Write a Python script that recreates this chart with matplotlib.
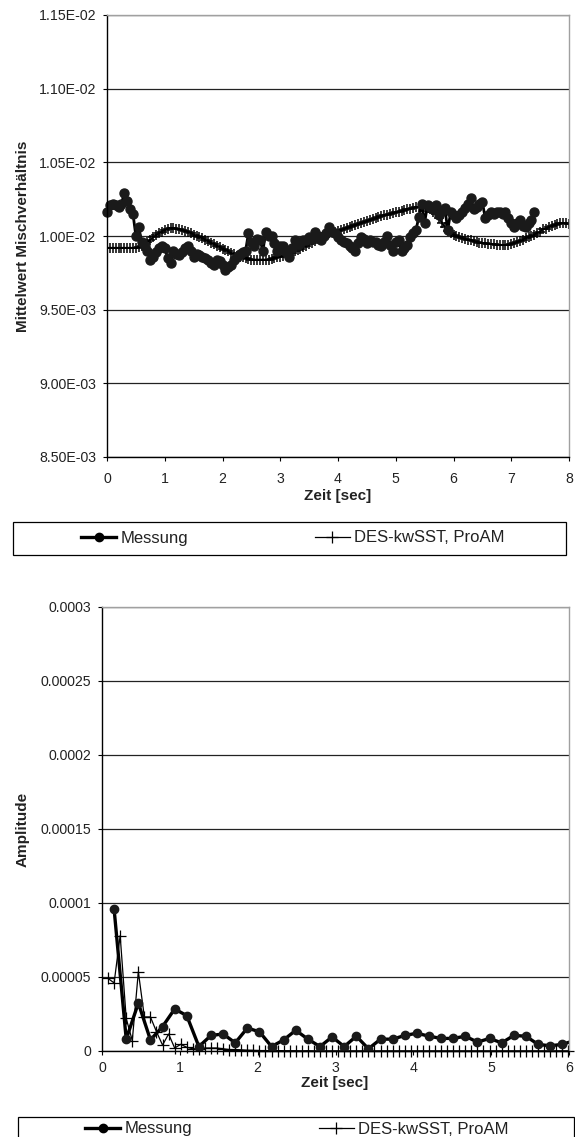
import numpy as np
import matplotlib
matplotlib.use("Agg")
import matplotlib.pyplot as plt
from matplotlib.patches import Rectangle
from matplotlib.lines import Line2D

plt.rcParams['font.family'] = ['Liberation Sans', 'DejaVu Sans']
plt.rcParams['text.color'] = '#222222'

# Mittelwert Mischverhaeltnis (x 1e-3), Zeitschritt 0.05 s
dt = 0.05
messung_mw = [
    10.16, 10.21, 10.22, 10.21, 10.20, 10.22, 10.29, 10.24, 10.18, 10.15,
    10.00, 10.06, 9.96, 9.93, 9.90, 9.84, 9.86, 9.89, 9.92, 9.93,
    9.92, 9.85, 9.82, 9.90, 9.88, 9.87, 9.89, 9.92, 9.93, 9.90,
    9.86, 9.88, 9.87, 9.86, 9.85, 9.84, 9.82, 9.80, 9.84, 9.83,
    9.80, 9.77, 9.79, 9.80, 9.84, 9.86, 9.88, 9.89, 9.90, 10.02,
    9.96, 9.93, 9.98, 9.97, 9.90, 10.03, 10.00, 10.00, 9.95, 9.90,
    9.93, 9.93, 9.89, 9.86, 9.92, 9.97, 9.94, 9.95, 9.97, 9.97,
    9.99, 9.98, 10.03, 10.00, 9.97, 10.00, 10.02, 10.06, 10.03, 10.02,
    9.99, 9.97, 9.96, 9.95, 9.93, 9.92, 9.90, 9.95, 9.99, 9.98,
    9.95, 9.97, 9.96, 9.96, 9.94, 9.93, 9.96, 10.00, 9.94, 9.90,
    9.96, 9.97, 9.90, 9.92, 9.94, 9.99, 10.02, 10.04, 10.13, 10.22,
    10.09, 10.21, 10.20, 10.18, 10.21, 10.14, 10.17, 10.19, 10.04, 10.16,
    10.14, 10.12, 10.14, 10.16, 10.19, 10.22, 10.26, 10.18, 10.20, 10.22,
    10.23, 10.12, 10.14, 10.16, 10.15, 10.16, 10.16, 10.15, 10.16, 10.12,
    10.09, 10.06, 10.09, 10.11, 10.07, 10.06, 10.09, 10.11, 10.16,
]
des_mw = [
    9.92, 9.92, 9.92, 9.92, 9.92, 9.92, 9.92, 9.92, 9.92, 9.92,
    9.92, 9.925, 9.93, 9.945, 9.96, 9.975, 9.99, 10.005, 10.02, 10.03,
    10.04, 10.05, 10.055, 10.055, 10.05, 10.045, 10.04, 10.035, 10.03, 10.02,
    10.01, 10.00, 9.995, 9.985, 9.975, 9.965, 9.955, 9.945, 9.935, 9.925,
    9.915, 9.905, 9.895, 9.885, 9.875, 9.865, 9.86, 9.855, 9.85, 9.845,
    9.84, 9.84, 9.84, 9.84, 9.84, 9.84, 9.84, 9.845, 9.85, 9.855,
    9.86, 9.865, 9.87, 9.88, 9.885, 9.895, 9.905, 9.915, 9.925, 9.935,
    9.945, 9.955, 9.965, 9.98, 9.99, 10.00, 10.01, 10.02, 10.025, 10.03,
    10.035, 10.04, 10.05, 10.055, 10.06, 10.07, 10.075, 10.08, 10.09, 10.095,
    10.10, 10.11, 10.115, 10.12, 10.13, 10.135, 10.14, 10.145, 10.15, 10.155,
    10.16, 10.165, 10.17, 10.175, 10.18, 10.185, 10.19, 10.195, 10.20, 10.20,
    10.195, 10.19, 10.18, 10.165, 10.15, 10.12, 10.09, 10.06, 10.035, 10.02,
    10.01, 10.00, 9.99, 9.985, 9.98, 9.975, 9.97, 9.965, 9.96, 9.955,
    9.95, 9.95, 9.945, 9.945, 9.945, 9.94, 9.94, 9.94, 9.94, 9.94,
    9.945, 9.95, 9.96, 9.965, 9.975, 9.985, 9.99, 10.00, 10.01, 10.02,
    10.03, 10.045, 10.05, 10.06, 10.07, 10.075, 10.08, 10.085, 10.085, 10.085,
    10.08,
]

# Amplitudenspektrum (x 1e-5)
df_mess = 0.1556
df_des = 0.0778
messung_amp = [
    9.58, 0.80, 3.24, 0.75, 1.65, 2.84, 2.39, 0.30, 1.05, 1.15,
    0.55, 1.55, 1.30, 0.30, 0.75, 1.40, 0.80, 0.30, 0.95, 0.30,
    1.00, 0.15, 0.80, 0.80, 1.05, 1.20, 1.00, 0.85, 0.85, 1.00,
    0.60, 0.85, 0.55, 1.05, 1.00, 0.45, 0.35, 0.45, 0.70,
]
des_amp = [
    4.90, 4.60, 7.80, 2.20, 0.70, 5.35, 2.30, 2.30, 1.30, 0.40,
    1.15, 0.20, 0.45, 0.25, 0.15, 0.15, 0.20, 0.20, 0.20, 0.15,
    0.10, 0.10, 0.08, 0.05, 0.04, 0.03, 0.03, 0.02, 0.03, 0.02,
    0.02, 0.02, 0.01, 0.02, 0.01, 0.01, 0.01, 0.01, 0.01, 0.01,
    0.01, 0.01, 0.01, 0.01, 0.01, 0.01, 0.01, 0.01, 0.01, 0.01,
    0.01, 0.01, 0.01, 0.01, 0.01, 0.01, 0.01, 0.01, 0.01, 0.01,
    0.01, 0.01, 0.01, 0.01, 0.01, 0.01, 0.01, 0.01, 0.01, 0.01,
    0.01, 0.01, 0.01, 0.01, 0.01, 0.01, 0.01,
]

mw_ticks = [8.5e-3, 9.0e-3, 9.5e-3, 1.0e-2, 1.05e-2, 1.1e-2, 1.15e-2]
amp_ticks = [0, 0.00005, 0.0001, 0.00015, 0.0002, 0.00025, 0.0003]
amp_ticklabels = ['0', '0.00005', '0.0001', '0.00015', '0.0002', '0.00025', '0.0003']
labels = ['Messung', 'DES-kwSST, ProAM']

W, H = 575, 1137
fig = plt.figure(figsize=(W / 100, H / 100), dpi=100)


def px_box(x0, y0, x1, y1):
    # Pixelbox (Ursprung oben links) -> Figurenbruchteile [l, b, w, h]
    return [x0 / W, 1 - y1 / H, (x1 - x0) / W, (y1 - y0) / H]


def style_axes(ax):
    for s in ['top', 'right']:
        ax.spines[s].set_color('#a0a0a0')
        ax.spines[s].set_linewidth(1.0)
    for s in ['left', 'bottom']:
        ax.spines[s].set_color('black')
        ax.spines[s].set_linewidth(1.0)
    ax.yaxis.grid(True, color='#222222', linewidth=0.9)
    ax.set_axisbelow(True)
    ax.tick_params(direction='out', length=3, width=0.8, labelsize=10.2,
                   colors='black', labelcolor='#222222')


# oberes Diagramm: Mittelwert
ax1 = fig.add_axes(px_box(107, 15, 569, 457))
t_mess = np.arange(len(messung_mw)) * dt
t_des = np.arange(len(des_mw)) * dt
ax1.plot(t_des, np.array(des_mw) * 1e-3, color='black', lw=1.3,
         marker='+', ms=7, mew=1.1)
ax1.plot(t_mess, np.array(messung_mw) * 1e-3, color='black', lw=2.0,
         marker='o', ms=6.5, mfc='#1a1a1a', mec='#1a1a1a', clip_on=False)
ax1.set_xlim(0, 8)
ax1.set_ylim(8.5e-3, 1.15e-2)
ax1.set_yticks(mw_ticks)
ax1.set_yticklabels([f"{v:.2E}" for v in mw_ticks])
ax1.set_xticks(range(9))
style_axes(ax1)
ax1.tick_params(axis='x', pad=8)
ax1.tick_params(axis='y', pad=5)

fig.text(338 / W, 1 - 496 / H, 'Zeit [sec]', ha='center', va='center',
         fontsize=11, fontweight='bold')
fig.text(23 / W, 1 - 236 / H, 'Mittelwert Mischverhältnis', ha='center',
         va='center', rotation=90, fontsize=11, fontweight='bold')

# unteres Diagramm: Amplitude
ax2 = fig.add_axes(px_box(102, 607, 569, 1051))
f_mess = (np.arange(len(messung_amp)) + 1) * df_mess
f_des = (np.arange(len(des_amp)) + 1) * df_des
ax2.plot(f_des, np.array(des_amp) * 1e-5, color='black', lw=0.9,
         marker='+', ms=8.5, mew=0.9, clip_on=False)
ax2.plot(f_mess, np.array(messung_amp) * 1e-5, color='black', lw=2.4,
         marker='o', ms=6, mfc='#1a1a1a', mec='#1a1a1a')
ax2.set_xlim(0, 6)
ax2.set_ylim(0, 0.0003)
ax2.set_yticks(amp_ticks)
ax2.set_yticklabels(amp_ticklabels)
ax2.set_xticks(range(7))
style_axes(ax2)
ax2.tick_params(axis='x', pad=4)
ax2.tick_params(axis='y', pad=5)

fig.text(335 / W, 1 - 1083 / H, 'Zeit [sec]', ha='center', va='center',
         fontsize=11, fontweight='bold')
fig.text(23 / W, 1 - 829 / H, 'Amplitude', ha='center', va='center',
         rotation=90, fontsize=11, fontweight='bold')


# Legenden mit eigenem Rahmen
def legend_row(box, center):
    fig.add_artist(Rectangle((box[0] / W, 1 - box[3] / H),
                             (box[2] - box[0]) / W, (box[3] - box[1]) / H,
                             transform=fig.transFigure, fill=False,
                             ec='black', lw=0.9))
    handles = [
        Line2D([], [], color='black', lw=2.4, marker='o', ms=6),
        Line2D([], [], color='black', lw=0.9, marker='+', ms=8.5, mew=0.9),
    ]
    fig.legend(handles, labels, loc='center',
               bbox_to_anchor=(center[0] / W, 1 - center[1] / H),
               ncol=2, frameon=False, fontsize=12, handlelength=2.1,
               handletextpad=0.25, columnspacing=7.6, borderpad=0)


legend_row((13, 522, 566, 555), (293, 538))
legend_row((18, 1117, 574, 1160), (297, 1129))

fig.savefig('out.png', dpi=100)
